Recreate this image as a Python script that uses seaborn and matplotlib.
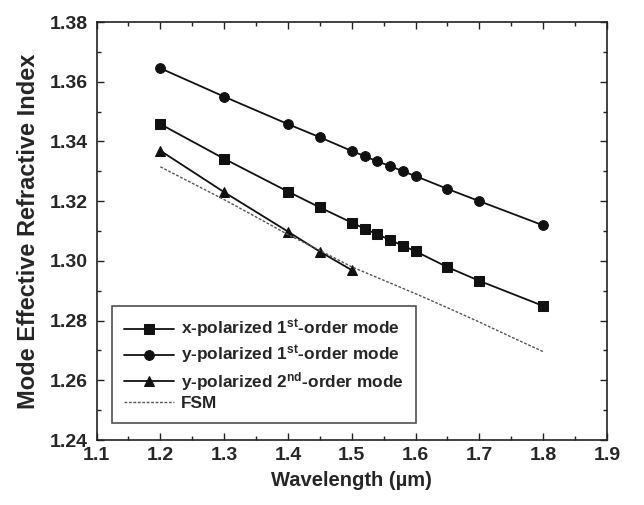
import matplotlib
matplotlib.use("Agg")
import matplotlib.pyplot as plt
import seaborn as sns
import pandas as pd
from matplotlib.ticker import MultipleLocator, FormatStrFormatter

sns.set_theme(style="ticks")
plt.rcParams['font.family'] = ['Liberation Sans', 'DejaVu Sans']
plt.rcParams['font.weight'] = 'bold'
plt.rcParams['mathtext.fontset'] = 'custom'
plt.rcParams['mathtext.rm'] = 'Liberation Sans:bold'
plt.rcParams['mathtext.default'] = 'rm'

wl_dense = [1.2, 1.3, 1.4, 1.45, 1.5, 1.52, 1.54, 1.56, 1.58, 1.6, 1.65, 1.7, 1.8]
x_pol_1st = [1.3458, 1.3342, 1.3232, 1.3179, 1.3128, 1.3108, 1.3089, 1.3070, 1.3051, 1.3032, 1.2979, 1.2933, 1.2849]
y_pol_1st = [1.3645, 1.3550, 1.3458, 1.3414, 1.3368, 1.3351, 1.3333, 1.3318, 1.3300, 1.3284, 1.3241, 1.3200, 1.3119]
wl_2nd = [1.2, 1.3, 1.4, 1.45, 1.5]
y_pol_2nd = [1.3369, 1.3230, 1.3098, 1.3031, 1.2969]
wl_fsm = [1.2, 1.25, 1.3, 1.35, 1.4, 1.45, 1.5, 1.55, 1.6, 1.65, 1.7, 1.75, 1.8]
fsm = [1.3315, 1.3260, 1.3205, 1.3147, 1.3088, 1.3035, 1.2980, 1.2935, 1.2890, 1.2843, 1.2795, 1.2745, 1.2696]

labels = ["x-polarized 1$^{st}$-order mode",
          "y-polarized 1$^{st}$-order mode",
          "y-polarized 2$^{nd}$-order mode",
          "FSM"]

fig = plt.figure(figsize=(6.44, 5.05), dpi=100)
ax = fig.add_axes([0.150, 0.1287, 0.7925, 0.8277])

df_x = pd.DataFrame({"wl": wl_dense, "n": x_pol_1st})
df_y = pd.DataFrame({"wl": wl_dense, "n": y_pol_1st})
df_2 = pd.DataFrame({"wl": wl_2nd, "n": y_pol_2nd})
df_f = pd.DataFrame({"wl": wl_fsm, "n": fsm})

sns.lineplot(data=df_x, x="wl", y="n", ax=ax, color="#111111", marker="s", markersize=6.5,
             markeredgecolor="#111111", linewidth=1.3, label=labels[0])
sns.lineplot(data=df_y, x="wl", y="n", ax=ax, color="#111111", marker="o", markersize=7,
             markeredgecolor="#111111", linewidth=1.3, label=labels[1])
sns.lineplot(data=df_2, x="wl", y="n", ax=ax, color="#111111", marker="^", markersize=7.5,
             markeredgecolor="#111111", linewidth=1.3, label=labels[2])
sns.lineplot(data=df_f, x="wl", y="n", ax=ax, color="#555555", linewidth=1.0,
             label=labels[3], dashes=False, linestyle=(0, (2, 1.2)))

ax.set_xlim(1.1, 1.9)
ax.set_ylim(1.24, 1.38)
ax.xaxis.set_major_locator(MultipleLocator(0.1))
ax.xaxis.set_minor_locator(MultipleLocator(0.05))
ax.yaxis.set_major_locator(MultipleLocator(0.02))
ax.yaxis.set_minor_locator(MultipleLocator(0.01))
ax.xaxis.set_major_formatter(FormatStrFormatter('%.1f'))
ax.yaxis.set_major_formatter(FormatStrFormatter('%.2f'))
ax.tick_params(which='both', direction='in', top=True, right=True, color='#222222')
ax.tick_params(which='major', length=5, width=1.0, labelsize=14)
ax.tick_params(axis='y', which='major', pad=6.5)
ax.tick_params(axis='x', which='major', pad=5)
ax.tick_params(which='minor', length=3, width=1.0)
for lab in ax.get_xticklabels() + ax.get_yticklabels():
    lab.set_fontweight('bold')
for s in ax.spines.values():
    s.set_color('#222222')
    s.set_linewidth(1.2)

ax.set_xlabel("Wavelength (\u00b5m)", fontsize=14.5, fontweight='bold', labelpad=5)
ax.set_ylabel("Mode Effective Refractive Index", fontsize=17, fontweight='bold', labelpad=7)

leg = ax.legend(loc='lower left', bbox_to_anchor=(0.03, 0.04), borderaxespad=0,
                frameon=True, fancybox=False,
                edgecolor='#222222', fontsize=12.4, handlelength=2.9, handletextpad=0.4,
                labelspacing=0.2, borderpad=0.7)
leg.get_frame().set_linewidth(1.2)
for t in leg.get_texts():
    t.set_fontweight('bold')

fig.savefig("out.png", dpi=100)
